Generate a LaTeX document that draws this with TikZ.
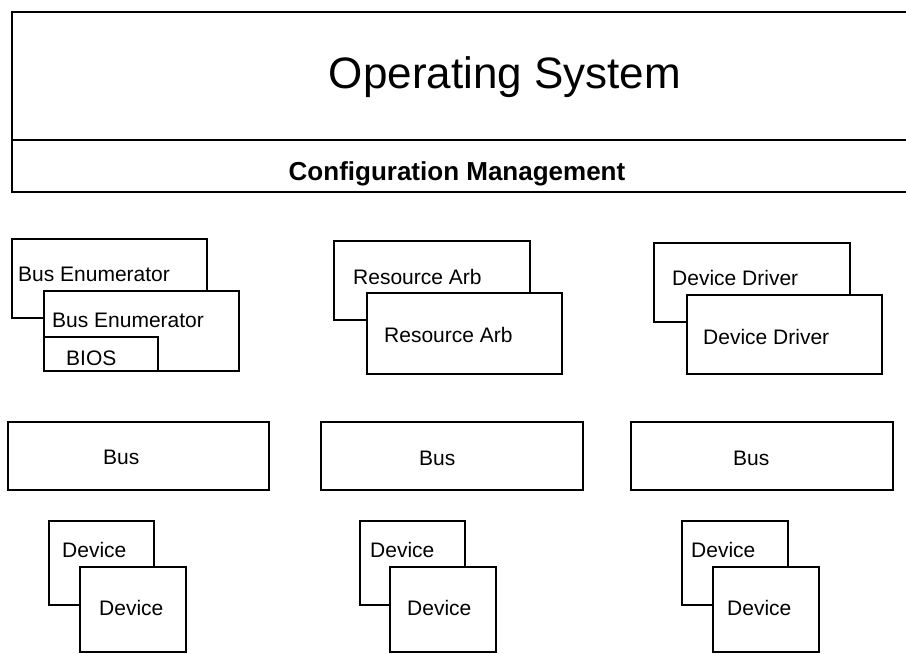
\documentclass[tikz,border=0pt]{standalone}
\usepackage{fontspec}
\setmainfont{Liberation Sans}
\usepackage{tikz}
\tikzset{frame/.style={line width=2.4pt}}
\tikzset{box/.style={line width=2.4pt}}
\tikzset{frontbox/.style={fill=white, line width=2.4pt}}
\tikzset{boxtext/.style={anchor=base west, inner sep=0pt, font=\fontsize{21}{25}\selectfont}}

\begin{document}
\begin{tikzpicture}[x=1pt, y=-1pt]
    \useasboundingbox (0, 0) rectangle (906, 654);
    % operating system frame
    \draw[frame] (12, 12) rectangle (930, 192);
    \draw[frame] (12, 140) -- (930, 140);
    \node[anchor=base, inner sep=0pt, font=\fontsize{44}{53}\selectfont] (os) at (505, 88) {Operating System};
    \node[anchor=base, inner sep=0pt, font=\fontsize{26}{31}\selectfont\bfseries] (cfg) at (457, 180) {Configuration Management};
    % bus enumerators
    \draw[box] (12, 239) rectangle (207, 318);
    \node[boxtext] (enumback) at (18, 281) {Bus Enumerator};
    \draw[frontbox] (44, 291) rectangle (239, 371);
    \node[boxtext] (enumfront) at (52, 327) {Bus Enumerator};
    \draw[box] (44, 337) rectangle (158, 371);
    \node[boxtext] (bios) at (66, 365) {BIOS};
    % resource arbitrators
    \draw[box] (334, 241) rectangle (530, 320);
    \node[boxtext] (arbback) at (353, 284) {Resource Arb};
    \draw[frontbox] (367, 293) rectangle (562, 374);
    \node[boxtext] (arbfront) at (384, 342) {Resource Arb};
    % device drivers
    \draw[box] (654, 243) rectangle (850, 322);
    \node[boxtext] (drvback) at (672, 285) {Device Driver};
    \draw[frontbox] (687, 295) rectangle (882, 374);
    \node[boxtext] (drvfront) at (703, 344) {Device Driver};
    % buses
    \draw[box] (8, 422) rectangle (269, 490);
    \node[boxtext] (busa) at (103, 464) {Bus};
    \draw[box] (321, 422) rectangle (583, 490);
    \node[boxtext] (busb) at (419, 465) {Bus};
    \draw[box] (631, 422) rectangle (893, 490);
    \node[boxtext] (busc) at (733, 465) {Bus};
    % devices
    \draw[box] (49, 521) rectangle (154, 605);
    \node[boxtext] (deva) at (62, 557) {Device};
    \draw[frontbox] (80, 567) rectangle (186, 652);
    \node[boxtext] (devaa) at (99, 615) {Device};
    \draw[box] (360, 521) rectangle (465, 605);
    \node[boxtext] (devb) at (370, 557) {Device};
    \draw[frontbox] (390, 567) rectangle (496, 652);
    \node[boxtext] (devbb) at (407, 615) {Device};
    \draw[box] (682, 521) rectangle (788, 605);
    \node[boxtext] (devc) at (691, 557) {Device};
    \draw[frontbox] (713, 567) rectangle (819, 652);
    \node[boxtext] (devcc) at (727, 615) {Device};
\end{tikzpicture}
\end{document}
